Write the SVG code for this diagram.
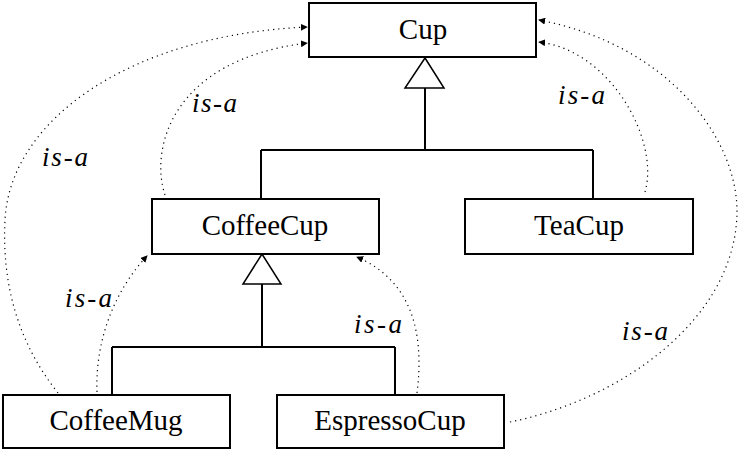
<svg xmlns="http://www.w3.org/2000/svg" width="742" height="453" viewBox="0 0 742 453">
<style>
.box{fill:#fff;stroke:#000;stroke-width:2}
.name{font-family:"Liberation Serif","Times New Roman",serif;font-size:29px;text-anchor:middle;fill:#000}
.lbl{font-family:"Liberation Serif","Times New Roman",serif;font-style:italic;font-size:27px;fill:#000}
.gen{fill:none;stroke:#000;stroke-width:2}
.tri{fill:#fff;stroke:#000;stroke-width:1.5}
.isa{fill:none;stroke:#000;stroke-width:1.2;stroke-dasharray:1.2 4}
</style>
<defs>
<marker id="ah" viewBox="0 0 8 8" refX="7" refY="4" markerWidth="7" markerHeight="7" markerUnits="userSpaceOnUse" orient="auto">
<path d="M0 0 L8 4 L0 8 Z" fill="#000"/>
</marker>
</defs>
<rect width="742" height="453" fill="#fff"/>
<g id="connectors">
<path class="gen" d="M425 88 V150 M261 150 H593 M261 150 V199 M593 150 V199"/>
<polygon class="tri" points="425,58 405,88 444,88"/>
<path class="gen" d="M262 284 V347 M112 347 H395 M112 347 V395 M395 347 V395"/>
<polygon class="tri" points="262,254 243,284 281,284"/>
<path class="isa" marker-end="url(#ah)" d="M58 393 Q0 320 5 220 C10 120 130 35 307 27"/>
<path class="isa" marker-end="url(#ah)" d="M165 195 C150 150 170 60 307 43"/>
<path class="isa" marker-end="url(#ah)" d="M645 192 C660 140 610 50 539 42"/>
<path class="isa" marker-end="url(#ah)" d="M510 422 C620 400 735 320 737 213 C738 140 670 45 539 20"/>
<path class="isa" marker-end="url(#ah)" d="M97 392 C95 340 115 290 147 256"/>
<path class="isa" marker-end="url(#ah)" d="M417 393 C425 330 410 280 357 257"/>
<text class="lbl" x="42" y="166" textLength="46">is-a</text>
<text class="lbl" x="192" y="112" textLength="45">is-a</text>
<text class="lbl" x="558" y="104" textLength="47">is-a</text>
<text class="lbl" x="65" y="307" textLength="47">is-a</text>
<text class="lbl" x="354" y="333" textLength="48">is-a</text>
<text class="lbl" x="622" y="340" textLength="46">is-a</text>
</g>
<g id="Cup"><rect class="box" x="309" y="3" width="227" height="54"/><text class="name" x="423" y="39">Cup</text></g>
<g id="CoffeeCup"><rect class="box" x="152" y="199" width="227" height="55"/><text class="name" x="265" y="235">CoffeeCup</text></g>
<g id="TeaCup"><rect class="box" x="465" y="199" width="228" height="55"/><text class="name" x="579" y="235">TeaCup</text></g>
<g id="CoffeeMug"><rect class="box" x="3" y="395" width="227" height="53"/><text class="name" x="116" y="430">CoffeeMug</text></g>
<g id="EspressoCup"><rect class="box" x="277" y="395" width="227" height="53"/><text class="name" x="390" y="430">EspressoCup</text></g>
</svg>
